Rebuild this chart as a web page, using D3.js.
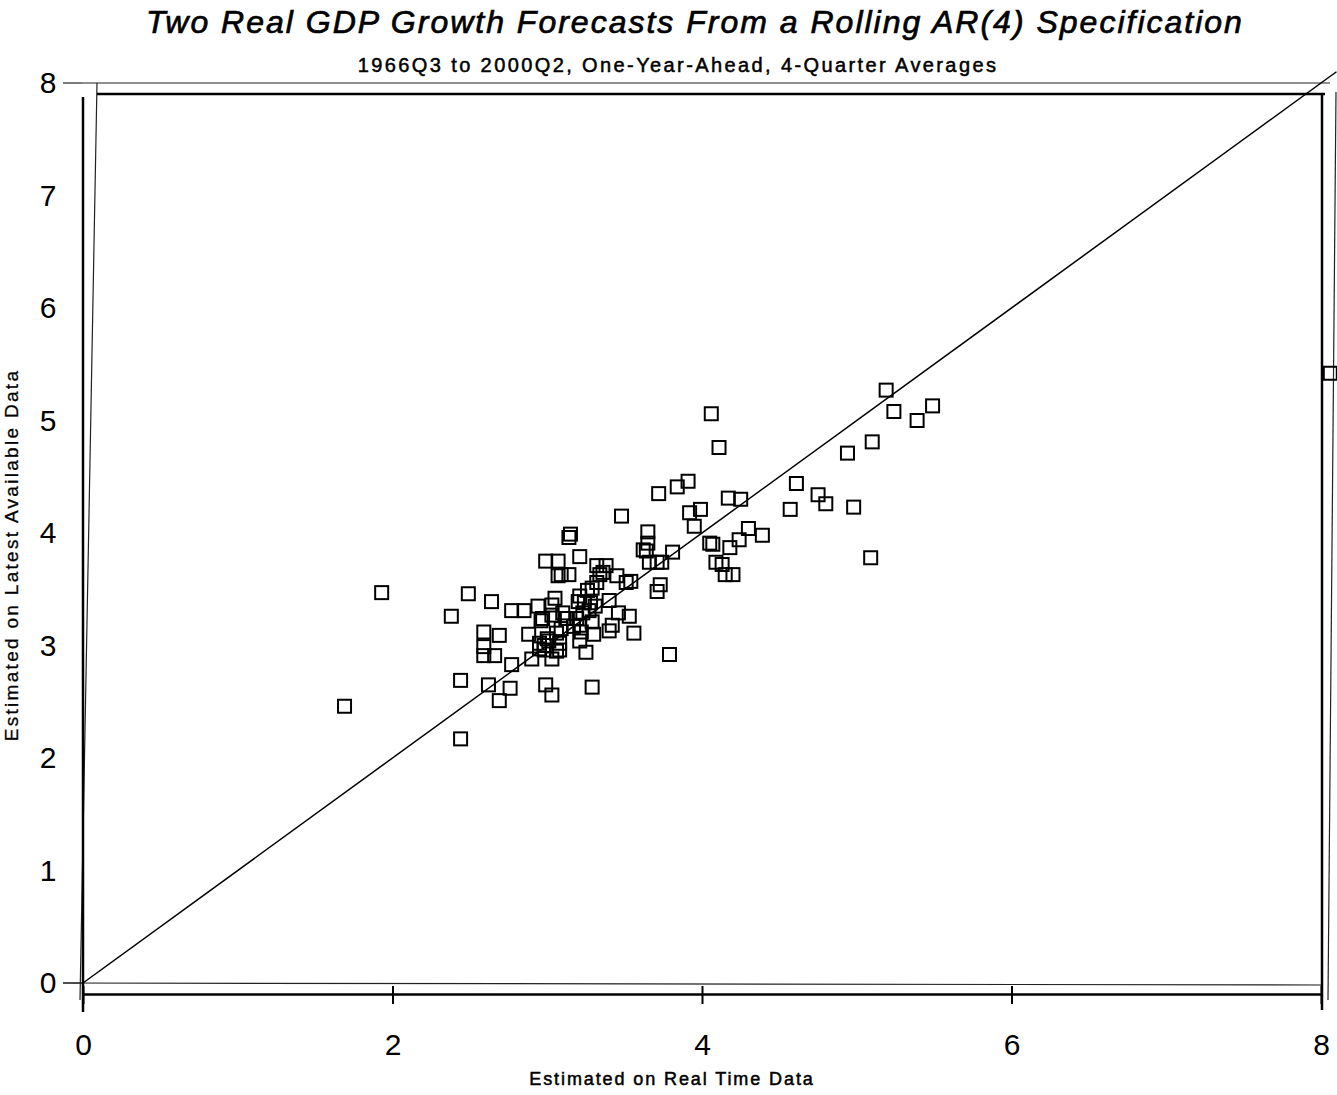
<!DOCTYPE html>
<html>
<head>
<meta charset="utf-8">
<script src="https://cdn.jsdelivr.net/npm/d3@7"></script>
<style>
  body { margin: 0; background: #fff; }
  svg { display: block; }
  text { font-family: "Liberation Sans", Arial, sans-serif; fill: #000; }
</style>
</head>
<body>
<svg id="chart" width="1337" height="1095"></svg>
<script>
// ---- Data ----
const title = "Two Real GDP Growth Forecasts From a Rolling AR(4) Specification";
const subtitle = "1966Q3 to 2000Q2, One-Year-Ahead, 4-Quarter Averages";
const xLabel = "Estimated on Real Time Data";
const yLabel = "Estimated on Latest Available Data";
const xTicks = [0, 2, 4, 6, 8];
const yTicks = [0, 1, 2, 3, 4, 5, 6, 7, 8];

// forecast estimated on real time data
const realTime = [
  1.69, 1.93, 2.38, 2.44, 2.44, 2.49, 2.59, 2.59, 2.59, 2.62,
  2.64, 2.66, 2.69, 2.69, 2.76, 2.77, 2.77, 2.85, 2.88, 2.90,
  2.94, 2.95, 2.96, 2.98, 2.99, 2.99, 3.00, 3.03, 3.03, 3.05,
  3.07, 3.07, 3.08, 3.09, 3.10, 3.12, 3.14, 3.14, 3.15, 3.17,
  3.19, 3.20, 3.21, 3.22, 3.23, 3.24, 3.25, 3.26, 3.27, 3.29,
  3.30, 3.31, 3.32, 3.32, 3.36, 3.38, 3.40, 3.40, 3.42, 3.45,
  3.46, 3.48, 3.51, 3.53, 3.54, 3.56, 3.62, 3.65, 3.65, 3.66,
  3.71, 3.71, 3.72, 3.73, 3.74, 3.79, 3.81, 3.84, 3.91, 3.92,
  3.95, 3.99, 4.05, 4.06, 4.07, 4.09, 4.11, 4.13, 4.15, 4.17,
  4.18, 4.20, 4.24, 4.25, 4.30, 4.39, 4.57, 4.61, 4.75, 4.80,
  4.94, 4.98, 5.09, 5.10, 5.19, 5.24, 5.39, 5.49, 8.06,
  3.09, 3.34, 3.29, 3.21, 3.28, 2.97, 3.03, 3.03, 3.13, 3.21,
  3.29, 3.06, 2.95, 3.01, 3.08, 3.21, 2.98, 3.06, 3.64
];
// forecast estimated on latest available data
const latest = [
  2.46, 3.47, 3.26, 2.69, 2.17, 3.46, 3.12, 2.99, 2.91, 2.65,
  3.39, 2.91, 3.09, 2.51, 2.62, 2.83, 3.31, 3.31, 3.10, 2.88,
  3.35, 2.97, 3.22, 3.00, 2.65, 3.75, 3.06, 2.56, 2.88, 3.42,
  3.62, 3.75, 2.96, 3.15, 3.29, 3.24, 3.63, 3.96, 3.99, 3.17,
  3.24, 3.39, 3.79, 3.12, 3.29, 3.38, 2.94, 3.49, 3.31, 2.63,
  3.10, 3.35, 3.71, 3.56, 3.65, 3.71, 3.13, 3.40, 3.18, 3.62,
  3.29, 4.15, 3.56, 3.26, 3.57, 3.11, 3.85, 4.01, 3.91, 3.74,
  3.74, 3.48, 4.35, 3.54, 3.74, 2.92, 3.83, 4.41, 4.46, 4.18,
  4.06, 4.21, 3.91, 5.06, 3.90, 3.74, 4.76, 3.72, 3.63, 4.31,
  3.87, 3.63, 3.94, 4.30, 4.04, 3.98, 4.21, 4.44, 4.34, 4.26,
  4.71, 4.23, 3.78, 4.81, 5.27, 5.08, 5.00, 5.13, 5.42,
  3.63, 3.63, 3.51, 3.44, 3.38, 3.24, 3.36, 3.27, 3.24, 3.18,
  3.21, 3.11, 3.02, 3.04, 3.02, 3.04, 2.96, 2.95, 3.84
];
const points = realTime.map((x, i) => ({ x, y: latest[i] }));

// ---- Layout ----
const svg = d3.select("#chart");
const x = d3.scaleLinear().domain([0, 8]).range([83, 1321]);
const y = d3.scaleLinear().domain([0, 8]).range([983, 83]);

// helper for "medium" weight text (regular face with a thin outline)
function medium(sel, w) {
  return sel.attr("stroke", "#000").attr("stroke-width", w).attr("paint-order", "stroke");
}

// Titles
medium(svg.append("text").attr("x", 695).attr("y", 33).attr("text-anchor", "middle")
  .attr("font-size", 32).attr("font-style", "italic")
  .attr("letter-spacing", 2).text(title), 0.7);
medium(svg.append("text").attr("x", 678).attr("y", 72).attr("text-anchor", "middle")
  .attr("font-size", 20).attr("letter-spacing", 2.4).text(subtitle), 0.5);

// Thin (outer) frame lines
const thin = [
  [[82, 83], [1330, 83]],
  [[97, 83], [80, 1000]],
  [[63, 983], [1321, 985]],
  [[1336, 92], [1328, 1000]]
];
svg.append("g").selectAll("path").data(thin).join("path")
  .attr("d", d => d3.line()(d)).attr("stroke", "#222").attr("stroke-width", 1.2).attr("fill", "none");

// Thick frame
svg.append("path")
  .attr("d", d3.line()([[97, 94], [1325, 94]]))
  .attr("stroke", "#000").attr("stroke-width", 2.5);
svg.append("path")
  .attr("d", d3.line()([[1322, 94], [1322, 1010]]))
  .attr("stroke", "#000").attr("stroke-width", 2.5);
svg.append("path")
  .attr("d", d3.line()([[83, 97], [83, 1012]]))
  .attr("stroke", "#000").attr("stroke-width", 2.5);

// X axis (thick bottom line with ticks crossing it)
const xAxis = d3.axisBottom(x).tickValues(xTicks).tickSizeInner(10).tickSizeOuter(0).tickPadding(30);
const gx = svg.append("g").attr("transform", "translate(0,994)").call(xAxis);
gx.select(".domain").attr("stroke-width", 2.5).attr("stroke", "#000");
gx.selectAll(".tick line").attr("y1", -8).attr("stroke-width", 2).attr("stroke", "#000");
gx.selectAll(".tick text").attr("font-size", 30).attr("font-family", "Liberation Sans, Arial, sans-serif");

// Y axis (labels only)
const yAxis = d3.axisLeft(y).tickValues(yTicks).tickSize(0).tickPadding(0);
const gy = svg.append("g").attr("transform", "translate(56,0)").call(yAxis);
gy.select(".domain").remove();
gy.selectAll(".tick text").attr("font-size", 30).attr("text-anchor", "middle")
  .attr("font-family", "Liberation Sans, Arial, sans-serif").attr("x", -8);
// small tick marks at 0 and 8
svg.append("g").selectAll("path").data([0, 8]).join("path")
  .attr("d", d => d3.line()([[63, y(d)], [82, y(d)]]))
  .attr("stroke", "#222").attr("stroke-width", 1.2);

// Axis titles
medium(svg.append("text").attr("x", 672).attr("y", 1085).attr("text-anchor", "middle")
  .attr("font-size", 18).attr("letter-spacing", 1.9).text(xLabel), 0.5);
medium(svg.append("text").attr("transform", "translate(18,555) rotate(-90)").attr("text-anchor", "middle")
  .attr("font-size", 19).attr("letter-spacing", 2.3).text(yLabel), 0.3);

// 45-degree line
svg.append("path")
  .attr("d", d3.line().x(d => x(d)).y(d => y(d))([0, 8.1]))
  .attr("stroke", "#000").attr("stroke-width", 1.5).attr("fill", "none");

// Points: open squares
const s = 13;
svg.append("g").selectAll("rect").data(points).join("rect")
  .attr("x", d => x(d.x) - s / 2).attr("y", d => y(d.y) - s / 2)
  .attr("width", s).attr("height", s)
  .attr("fill", "none").attr("stroke", "#000").attr("stroke-width", 2);
</script>
</body>
</html>
